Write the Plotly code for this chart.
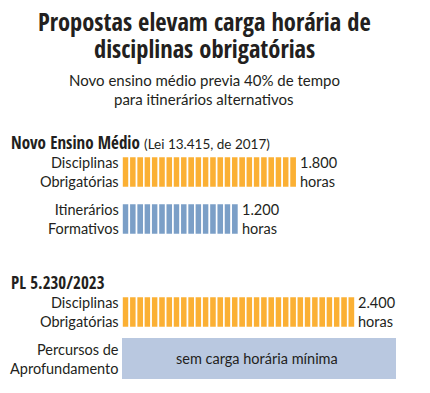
import plotly.graph_objects as go

# ---- data ----
section_titles = ["Novo Ensino Médio", "PL 5.230/2023"]
section_notes = ["(Lei 13.415, de 2017)", ""]
bar_labels = ["Disciplinas<br>Obrigatórias", "Itinerários<br>Formativos", "Disciplinas<br>Obrigatórias"]
bar_hours = [1800, 1200, 2400]
bar_value_labels = ["1.800<br>horas", "1.200<br>horas", "2.400<br>horas"]
box_label = "Percursos de<br>Aprofundamento"
box_text = "sem carga horária mínima"
segment_hours = 75

# ---- styles / layout ----
W, H = 430, 393
bar_colors = ["#FBB034", "#7B9FC7", "#FBB034"]
box_color = "#B9C8E0"
row_centers = [172, 219, 312]   # pixel rows (y axis in pixel units)
bar_thickness = 31
box_y = (338, 379)
x_px0, x_px1 = 122, 396
x_px_2400 = 355
x_max = 2400 * (x_px1 - x_px0) / (x_px_2400 - x_px0)

body_font = "Lato, 'Open Sans', sans-serif"
cond_font = "'Open Sans Condensed', 'Roboto Condensed', sans-serif"
text_col = "#231f20"

fig = go.Figure()
for hrs, yc, col in zip(bar_hours, row_centers, bar_colors):
    n = int(round(hrs / segment_hours))
    fig.add_trace(go.Bar(
        orientation="h",
        x=[segment_hours] * n,
        base=[i * segment_hours for i in range(n)],
        y=[yc] * n,
        width=bar_thickness,
        marker=dict(color=col, line=dict(color="white", width=1.6)),
        hoverinfo="skip",
        showlegend=False,
    ))

ann = []
title_x = 204 / W
ann.append(dict(x=title_x, y=21, xref="paper", yref="y", text="<b>Propostas elevam carga horária de</b>",
                showarrow=False, borderpad=0, font=dict(family=cond_font, size=24.5, color=text_col)))
ann.append(dict(x=title_x, y=48, xref="paper", yref="y", text="<b>disciplinas obrigatórias</b>",
                showarrow=False, borderpad=0, font=dict(family=cond_font, size=24.5, color=text_col)))
ann.append(dict(x=title_x, y=80, xref="paper", yref="y", text="Novo ensino médio previa 40% de tempo",
                showarrow=False, font=dict(family=body_font, size=15, color=text_col)))
ann.append(dict(x=title_x, y=99, xref="paper", yref="y", text="para itinerários alternativos",
                showarrow=False, font=dict(family=body_font, size=15, color=text_col)))
sec_y = [142, 282]
for t, note, yy in zip(section_titles, section_notes, sec_y):
    txt = f"<b>{t}</b>"
    if note:
        txt += f" <span style='font-family:Lato;font-size:13.5px'>{note}</span>"
    ann.append(dict(x=10 / W, y=yy, xref="paper", yref="y", text=txt, xanchor="left", borderpad=0,
                    showarrow=False, font=dict(family=cond_font, size=17, color=text_col)))
for lab, val, hrs, yc in zip(bar_labels, bar_value_labels, bar_hours, row_centers):
    ann.append(dict(x=120 / W, y=yc, xref="paper", yref="y", text=lab, xanchor="right", align="right",
                    borderpad=0, showarrow=False, font=dict(family=body_font, size=14.5, color=text_col)))
    ann.append(dict(x=hrs, y=yc, xref="x", yref="y", text=val, xanchor="left", align="left", xshift=2,
                    borderpad=0, showarrow=False, font=dict(family=body_font, size=14.5, color=text_col)))
box_c = sum(box_y) / 2
ann.append(dict(x=120 / W, y=box_c, xref="paper", yref="y", text=box_label, xanchor="right", align="right",
                borderpad=0, showarrow=False, font=dict(family=body_font, size=14.5, color=text_col)))
ann.append(dict(x=0.5, y=box_c, xref="x domain", yref="y", text=box_text, xshift=-2,
                showarrow=False, font=dict(family=body_font, size=14.5, color=text_col)))

fig.add_shape(type="rect", xref="x domain", yref="y", x0=0, x1=1, y0=box_y[0], y1=box_y[1],
              fillcolor=box_color, line=dict(width=0), layer="below")

fig.update_layout(
    width=W, height=H,
    margin=dict(l=0, r=0, t=0, b=0),
    paper_bgcolor="white", plot_bgcolor="white",
    barmode="overlay",
    annotations=ann,
    xaxis=dict(domain=[x_px0 / W, x_px1 / W], range=[0, x_max], visible=False, fixedrange=True),
    yaxis=dict(domain=[0, 1], range=[H, 0], visible=False, fixedrange=True),
)

fig.write_html("out.html", config={"displayModeBar": False},
               post_script="document.body.style.margin='0';")
